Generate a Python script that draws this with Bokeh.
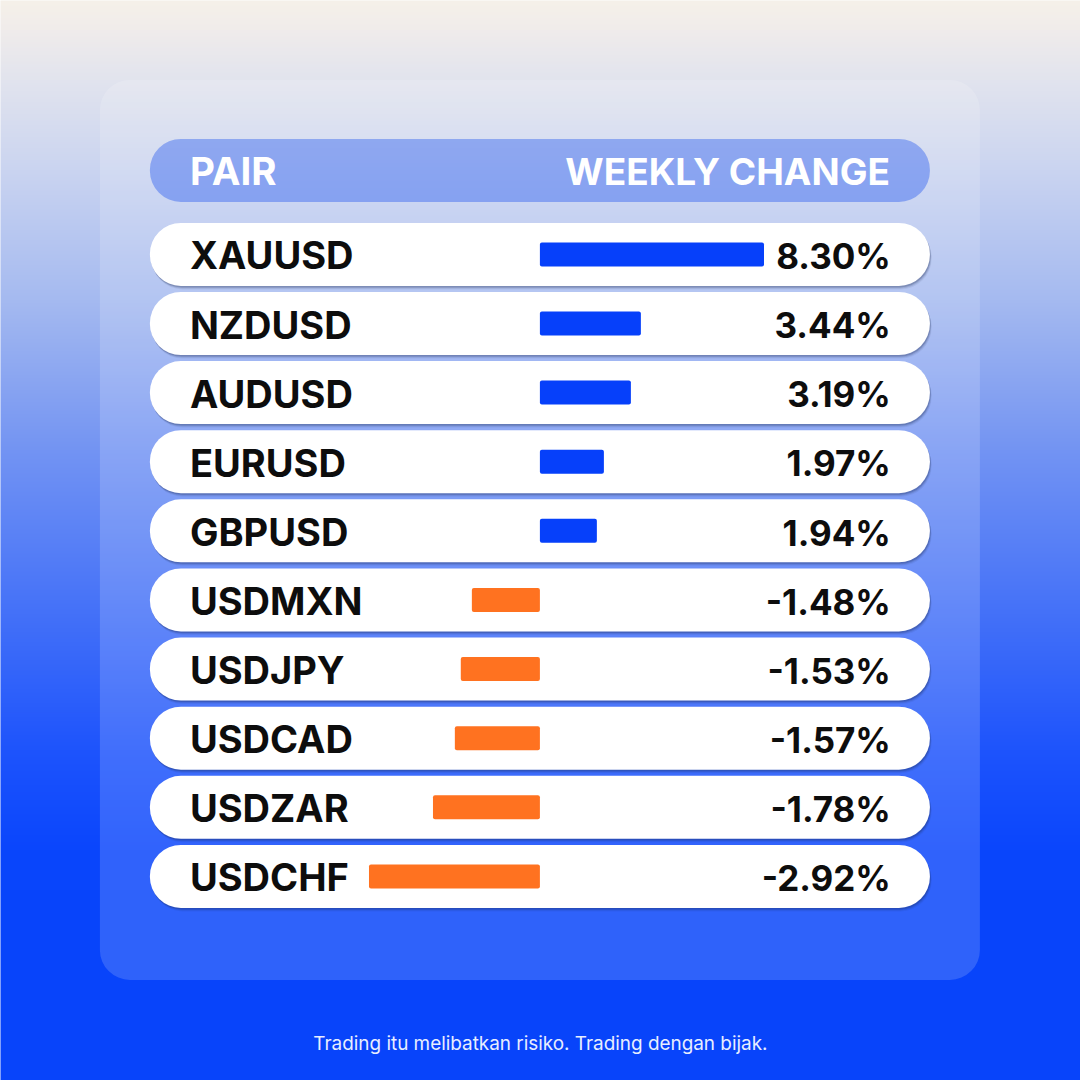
import numpy as np
from bokeh.core.properties import value
from bokeh.embed import file_html
from bokeh.models import ColumnDataSource, Range1d
from bokeh.plotting import figure
from bokeh.resources import INLINE

pairs = ["XAUUSD", "NZDUSD", "AUDUSD", "EURUSD", "GBPUSD",
         "USDMXN", "USDJPY", "USDCAD", "USDZAR", "USDCHF"]
weekly_change = [8.30, 3.44, 3.19, 1.97, 1.94, -1.48, -1.53, -1.57, -1.78, -2.92]
# bar lengths as drawn in the picture (they are not proportional to the labels)
bar_lengths = [8.30, 3.74, 3.37, 2.37, 2.11, -2.52, -2.93, -3.15, -3.96, -6.33]
header_left = "PAIR"
header_right = "WEEKLY CHANGE"
footer = "Trading itu melibatkan risiko. Trading dengan bijak."

FONT = value("Inter")
PX_PER_UNIT = 27.0
ZERO_X = 540.0
X0 = 0.6
Y0 = 0.6
BASE_SHIFT = 0.38  # bokeh draws "alphabetic" text lower by this share of the font size

p = figure(width=1080, height=1080, output_backend="svg", toolbar_location=None,
           x_range=Range1d(X0, 1080 + X0), y_range=Range1d(1080 + Y0, Y0),
           x_axis_type=None, y_axis_type=None, min_border=0, outline_line_color=None)
p.grid.visible = False
p.extra_x_ranges = {"bars": Range1d((X0 - ZERO_X) / PX_PER_UNIT, (1080 + X0 - ZERO_X) / PX_PER_UNIT)}

# background gradient
stops_y = [0, 30, 80, 160, 300, 450, 600, 750, 850, 930, 1080]
stops_c = [(246, 241, 233), (240, 236, 235), (226, 228, 238), (205, 214, 240), (165, 186, 240),
           (115, 148, 243), (72, 116, 248), (30, 84, 252), (10, 70, 252), (8, 68, 250), (8, 68, 250)]
ys = np.arange(0, 1090) - 5
img = np.zeros((len(ys), 1), dtype=np.uint32)
view = img.view(dtype=np.uint8).reshape((len(ys), 1, 4))
for k in range(3):
    view[:, 0, k] = np.interp(ys, stops_y, [c[k] for c in stops_c])
view[:, 0, 3] = 255
p.image_rgba(image=[img], x=-5, y=-5, dw=1090, dh=1090)

# translucent card
p.quad(left=100, right=980, top=80, bottom=980, fill_color="white", fill_alpha=0.16,
       line_color=None, border_radius=30)

# header pill
p.quad(left=150, right=930, top=139, bottom=202, fill_color="#1048ee", fill_alpha=0.37,
       line_color=None, border_radius=31)
p.text(x=[190], y=[186 - BASE_SHIFT * 38.5], text=[header_left], text_font=FONT, text_font_style="bold",
       text_font_size="38.5px", text_color="white", text_baseline="alphabetic", text_align="left")
p.text(x=[890], y=[186 - BASE_SHIFT * 37], text=[header_right], text_font=FONT, text_font_style="bold",
       text_font_size="37px", text_color="white", text_baseline="alphabetic", text_align="right")

# rows
n = len(pairs)
row_top = [223 + 69.11 * i for i in range(n)]
row_bottom = [t + 63 for t in row_top]
bar_top = [t + 19.5 for t in row_top]
bar_bottom = [t + 43.5 for t in row_top]
baseline_name = [t + 47 - BASE_SHIFT * 38 for t in row_top]
baseline_value = [t + 46.5 - BASE_SHIFT * 35 for t in row_top]
zeros = [0.0] * n
src = ColumnDataSource(dict(
    pair=pairs,
    label=[f"{v:.2f}%" for v in weekly_change],
    length=bar_lengths,
    zero=zeros,
    top=row_top, bottom=row_bottom,
    bar_top=bar_top, bar_bottom=bar_bottom,
    baseline_name=baseline_name, baseline_value=baseline_value,
    color=["#0640fa" if v > 0 else "#ff7220" for v in weekly_change],
))
for off, alpha in [(3.5, 0.07), (2.5, 0.12), (1.5, 0.22)]:
    p.quad(left=[150 + off * 0.5] * n, right=[930 + off * 0.5] * n,
           top=[t + off for t in row_top], bottom=[b + off for b in row_bottom],
           fill_color="#1a2a50", fill_alpha=alpha, line_color=None, border_radius=31)
p.quad(left=150, right=930, top="top", bottom="bottom", source=src, fill_color="white",
       line_color=None, border_radius=31)
p.quad(left="zero", right="length", top="bar_top", bottom="bar_bottom", source=src,
       x_range_name="bars", fill_color="color", line_color=None, border_radius=2)
p.text(x=190, y="baseline_name", text="pair", source=src, text_font=FONT, text_font_style="bold",
       text_font_size="38px", text_color="#0d0d0d", text_baseline="alphabetic", text_align="left")
p.text(x=891, y="baseline_value", text="label", source=src, text_font=FONT, text_font_style="bold",
       text_font_size="35px", text_color="#0d0d0d", text_baseline="alphabetic", text_align="right")

# footer
p.text(x=[540.5], y=[1051 - BASE_SHIFT * 19], text=[footer], text_font=FONT, text_font_size="18.9px",
       text_color="#e8eeff", text_baseline="alphabetic", text_align="center")

open("out.html", "w").write(file_html(p, INLINE))
